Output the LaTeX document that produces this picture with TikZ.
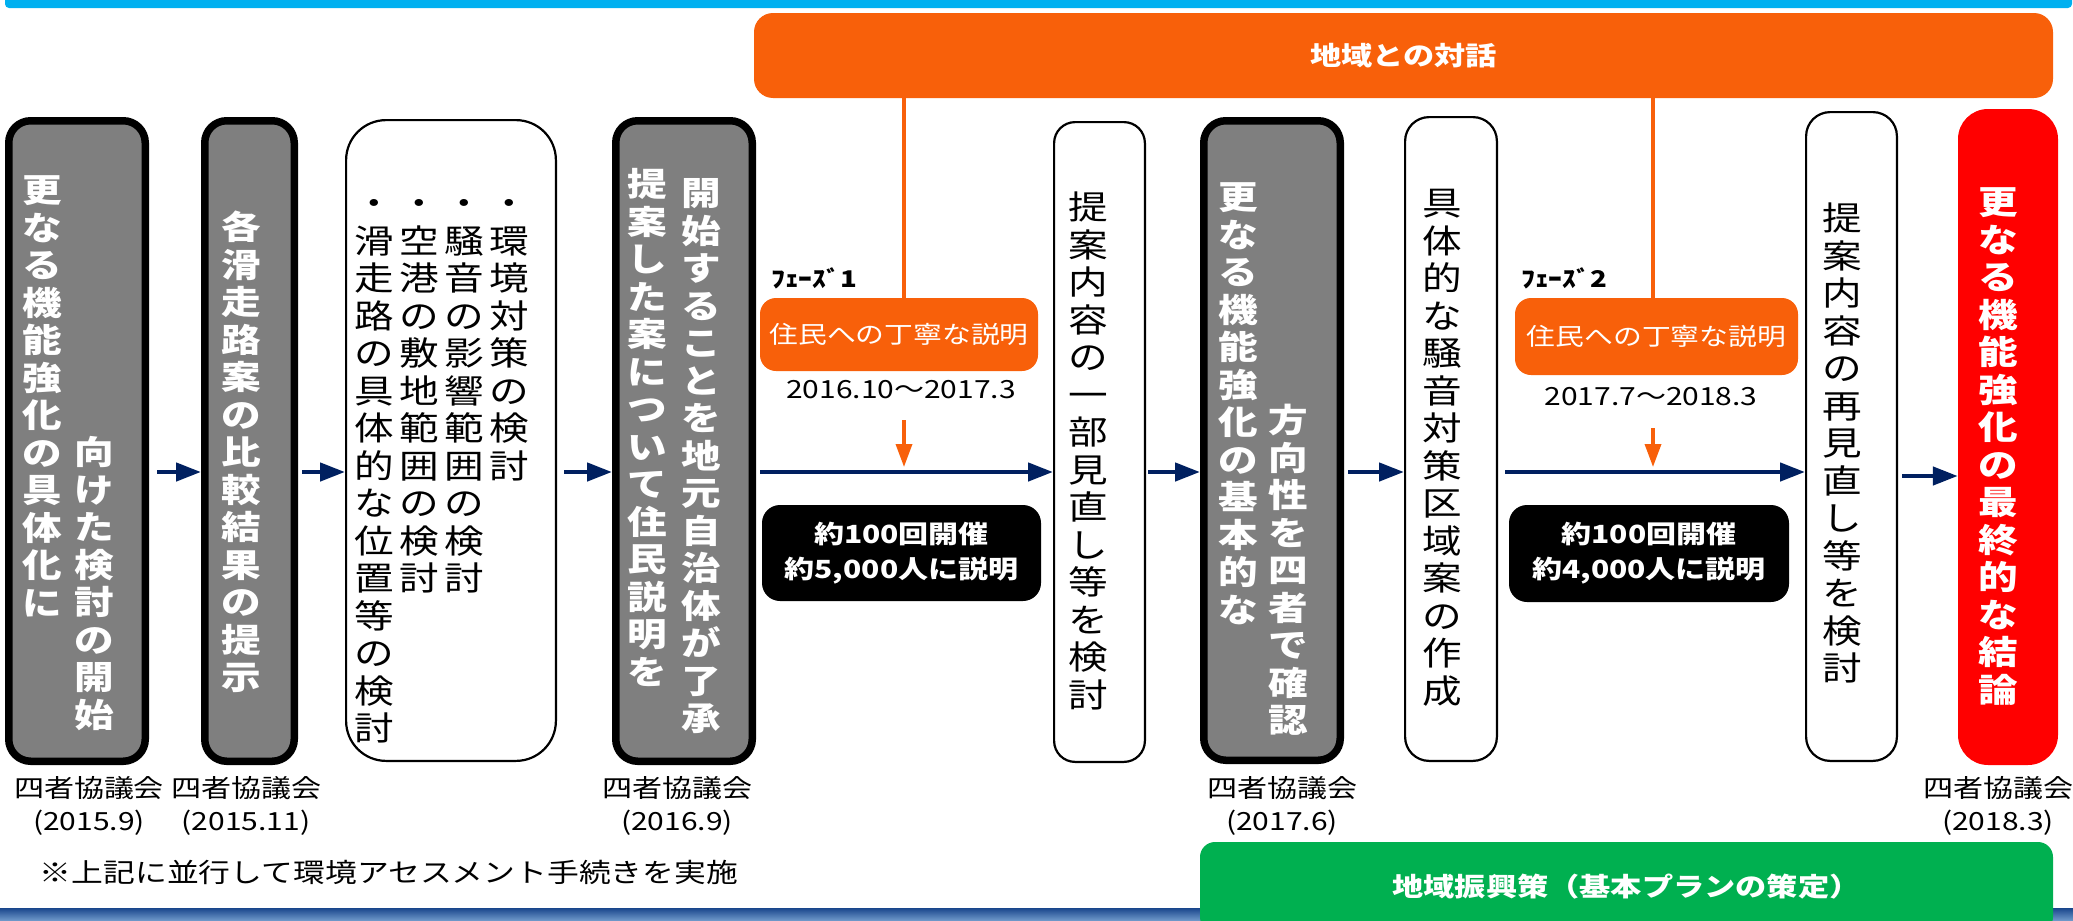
\documentclass[tikz,border=0pt]{standalone}
\usepackage{fontspec}
\setmainfont{Noto Sans CJK JP}[FakeStretch=1.2]
\usetikzlibrary{arrows.meta}
\definecolor{navy}{HTML}{002060}
\definecolor{orng}{RGB}{248,96,10}
\definecolor{gfill}{HTML}{7F7F7F}
\definecolor{grn}{HTML}{00B050}
\definecolor{cyanbar}{HTML}{00B0F0}
\definecolor{barTop}{RGB}{25,70,140}
\definecolor{barBot}{RGB}{150,190,230}
\newdimen\vpitch \vpitch=37.5pt
\def\vstackEnd{}
\newcommand\vcell[1]{\hbox to 40pt{\hss\vbox to\vpitch{\vss\hbox{\vrule height .88em depth .12em width 0pt#1}\vss}\hss}}
\def\vstackA#1{\ifx\vstackEnd#1\else\vcell{#1}\expandafter\vstackA\fi}
\newcommand\vstack[1]{\vbox{\offinterlineskip\vstackA#1\vstackEnd}}
\tikzset{
  thickbox/.style={draw=black, line width=7.5pt, fill=gfill, rounded corners=22pt, inner sep=0pt},
  thinbox/.style={draw=black, line width=2.2pt, fill=white, inner sep=0pt},
  redbox/.style={fill=red, rounded corners=30pt, inner sep=0pt},
  vbold/.style={text=white, font=\bfseries\fontsize{33}{37.5}\selectfont, inner sep=0pt, anchor=north},
  vreg/.style={text=black, font=\fontsize{33}{37.5}\selectfont, inner sep=0pt, anchor=north},
  arr/.style={draw=navy, line width=4.5pt, -{Triangle[length=25pt,width=18pt]}},
  oline/.style={draw=orng, line width=3.5pt},
  oarr/.style={draw=orng, line width=3.5pt, -{Triangle[length=23pt,width=16pt]}},
  obox/.style={fill=orng, rounded corners=16pt, text=white, font=\fontsize{24}{28}\selectfont, inner sep=0pt},
  bbox/.style={fill=black, rounded corners=18pt, text=white, font=\bfseries\fontsize{25}{35}\selectfont, align=center, inner sep=0pt},
  lbl/.style={font=\fontsize{25}{30}\selectfont, inner sep=0pt},
  phase/.style={font=\bfseries\fontsize{23}{26}\selectfont, anchor=west, inner sep=0pt},
}
\begin{document}
\begin{tikzpicture}[x=1pt,y=-1pt]
\useasboundingbox (0,0) rectangle (2073,921);
% top and bottom bars
\fill[cyanbar, rounded corners=4pt] (5,-6) rectangle (2072,8);
\shade[top color=barTop, bottom color=barBot] (0,908) rectangle (2073,926);
% orange dialogue bar
\node[fill=orng, rounded corners=19pt, minimum width=1299pt, minimum height=85pt, inner sep=0pt,
      text=white, font=\bfseries\fontsize{26}{30}\selectfont] (bar) at (1403.5,55.5) {地域との対話};
% boxes
\node[thickbox, minimum width=136.5pt, minimum height=640.5pt] (b1) at (77,441) {};
\node[thickbox, minimum width=89.5pt, minimum height=640.5pt] (b2) at (249.5,441) {};
\node[thinbox, rounded corners=40pt, minimum width=209.8pt, minimum height=640.8pt] (b3) at (451,440.5) {};
\node[thickbox, minimum width=136.5pt, minimum height=640.5pt] (b4) at (684,441) {};
\node[thinbox, rounded corners=21pt, minimum width=90.8pt, minimum height=639.8pt] (b5) at (1099.5,442) {};
\node[thickbox, minimum width=136.5pt, minimum height=639.5pt] (b6) at (1272,440.5) {};
\node[thinbox, rounded corners=24pt, minimum width=91.8pt, minimum height=643.8pt] (b7) at (1451,439) {};
\node[thinbox, rounded corners=24pt, minimum width=90.8pt, minimum height=648.8pt] (b8) at (1851.5,436.5) {};
\node[redbox, minimum width=100pt, minimum height=656pt] (b9) at (2008,437) {};
% vertical texts
\node[vbold] (t1a) at (42,171.25) {\vstack{更なる機能強化の具体化に}};
\node[vbold] (t1b) at (94,433.25) {\vstack{向けた検討の開始}};
\node[vbold] (t2) at (241,208.25) {\vstack{各滑走路案の比較結果の提示}};
\node[vreg] (t3a) at (509,184.25) {\vstack{・環境対策の検討}};
\node[vreg] (t3b) at (464,184.25) {\vstack{・騒音の影響範囲の検討}};
\node[vreg] (t3c) at (419,184.25) {\vstack{・空港の敷地範囲の検討}};
\node[vreg] (t3d) at (374,184.25) {\vstack{・滑走路の具体的な位置等の検討}};
\node[vbold] (t4a) at (647,165.25) {\vstack{提案した案について住民説明を}};
\node[vbold] (t4b) at (701,174.25) {\vstack{開始することを地元自治体が了承}};
\node[vreg] (t5) at (1088,188.25) {\vstack{提案内容の一部見直し等を検討}};
\node[vbold] (t6a) at (1238,178.25) {\vstack{更なる機能強化の基本的な}};
\node[vbold] (t6b) at (1288,401.25) {\vstack{方向性を四者で確認}};
\node[vreg] (t7) at (1442,184.25) {\vstack{具体的な騒音対策区域案の作成}};
\node[vreg] (t8) at (1842,199.25) {\vstack{提案内容の再見直し等を検討}};
\node[vbold] (t9) at (1998,183.25) {\vstack{更なる機能強化の最終的な結論}};
% labels under boxes
\node[lbl] (l1a) at (89,788) {四者協議会};
\node[lbl] (l1b) at (89,823) {(2015.9)};
\node[lbl] (l2a) at (246,788) {四者協議会};
\node[lbl] (l2b) at (246,823) {(2015.11)};
\node[lbl] (l4a) at (677,788) {四者協議会};
\node[lbl] (l4b) at (677,823) {(2016.9)};
\node[lbl] (l6a) at (1282,788) {四者協議会};
\node[lbl] (l6b) at (1282,823) {(2017.6)};
\node[lbl] (l9a) at (1998,788) {四者協議会};
\node[lbl] (l9b) at (1998,823) {(2018.3)};
\node[lbl, font=\fontsize{26.5}{30}\selectfont] (note) at (389,872) {※上記に並行して環境アセスメント手続きを実施};
% phase parts
\node[phase] (ph1) at (771,278) {ﾌｪｰｽﾞ1};
\node[phase] (ph2) at (1521,278) {ﾌｪｰｽﾞ2};
\node[obox, minimum width=278pt, minimum height=73pt] (ob1) at (899,334.5) {住民への丁寧な説明};
\node[obox, minimum width=283pt, minimum height=77pt] (ob2) at (1656.5,336.5) {住民への丁寧な説明};
\node[lbl] (d1) at (901,390) {2016.10～2017.3};
\node[lbl] (d2) at (1651,397) {2017.7～2018.3};
\node[bbox, minimum width=279pt, minimum height=96pt] (bb1) at (901.5,553) {約100回開催\\約5,000人に説明};
\node[bbox, minimum width=280pt, minimum height=97pt] (bb2) at (1649,553.5) {約100回開催\\約4,000人に説明};
% green box
\node[fill=grn, rounded corners=15pt, minimum width=853pt, minimum height=90pt, inner sep=0pt,
      text=white, font=\bfseries\fontsize{26}{30}\selectfont] (gb) at (1626.5,887) {地域振興策（基本プランの策定）};
% orange connectors
\coordinate (p1) at (904,0);
\coordinate (p2) at (1653,0);
\draw[oline] (bar.south -| p1) -- (ob1.north -| p1);
\draw[oline] (bar.south -| p2) -- (ob2.north -| p2);
\coordinate (q1s) at (904,420);
\coordinate (q1e) at (904,467);
\coordinate (q2s) at (1653,428);
\coordinate (q2e) at (1653,467);
\draw[oarr] (q1s) -- (q1e);
\draw[oarr] (q2s) -- (q2e);
% navy arrows
\coordinate (ay) at (0,472);
\coordinate (ay2) at (0,476);
\draw[arr, shorten <=8pt] (b1.east |- ay) -- (b2.west |- ay);
\draw[arr, shorten <=4pt] (b2.east |- ay) -- (b3.west |- ay);
\draw[arr, shorten <=7pt] (b3.east |- ay) -- (b4.west |- ay);
\draw[arr, shorten <=4pt] (b4.east |- ay) -- (b5.west |- ay);
\draw[arr, shorten <=2pt] (b5.east |- ay) -- (b6.west |- ay);
\draw[arr, shorten <=4pt] (b6.east |- ay) -- (b7.west |- ay);
\draw[arr, shorten <=7pt] (b7.east |- ay) -- (b8.west |- ay);
\draw[arr, shorten <=4pt] (b8.east |- ay2) -- (b9.west |- ay2);
\end{tikzpicture}
\end{document}
